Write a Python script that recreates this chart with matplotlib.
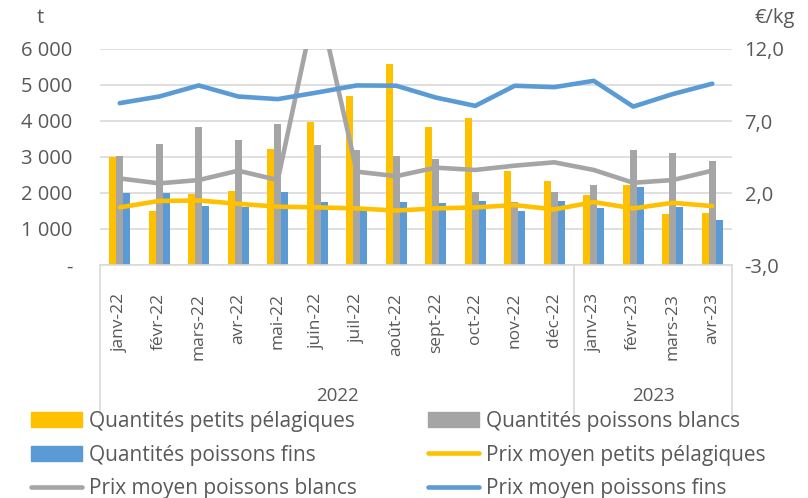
import matplotlib
matplotlib.use("Agg")
import matplotlib.pyplot as plt
import numpy as np
from matplotlib.patches import Patch
from matplotlib.lines import Line2D

# données
mois = ["janv-22", "févr-22", "mars-22", "avr-22", "mai-22", "juin-22", "juil-22",
        "août-22", "sept-22", "oct-22", "nov-22", "déc-22",
        "janv-23", "févr-23", "mars-23", "avr-23"]
annees = ["2022", "2023"]
nb_mois_annee = [12, 4]

q_pelagiques = [2990, 1490, 1970, 2050, 3210, 3980, 4700, 5580,
                3830, 4080, 2600, 2330, 1950, 2220, 1420, 1450]
q_blancs = [3030, 3360, 3840, 3480, 3920, 3340, 3190, 3040,
            2940, 2020, 1750, 2030, 2210, 3190, 3120, 2890]
q_fins = [1990, 1990, 1630, 1600, 2020, 1740, 1520, 1760,
          1710, 1770, 1500, 1790, 1590, 2170, 1620, 1250]

p_pelagiques = [1.00, 1.45, 1.48, 1.25, 1.05, 1.00, 0.93, 0.78,
                0.93, 1.00, 1.16, 0.86, 1.37, 0.93, 1.32, 1.09]
p_blancs = [3.01, 2.67, 2.90, 3.55, 2.90, 15.7, 3.48, 3.17,
            3.76, 3.60, 3.90, 4.13, 3.60, 2.71, 2.90, 3.55]
p_fins = [8.24, 8.70, 9.47, 8.70, 8.52, 8.98, 9.47, 9.45,
          8.63, 8.05, 9.45, 9.35, 9.79, 8.00, 8.87, 9.59]

JAUNE = "#FFC000"
GRIS = "#A5A5A5"
BLEU = "#5B9BD5"
TEXTE = "#595959"

plt.rcParams["font.family"] = ["Open Sans", "DejaVu Sans"]
fs_mois = 12.5
fs_axe = 14.5
fs_leg = 15

fig = plt.figure(figsize=(8.08, 4.98), dpi=100)
ax = fig.add_axes([100 / 808, 1 - 265 / 498, 632 / 808, 216 / 498])
ax2 = ax.twinx()

x = np.arange(len(mois))
w = 0.175
ax.bar(x - w, q_pelagiques, w, color=JAUNE, zorder=2)
ax.bar(x, q_blancs, w, color=GRIS, zorder=2)
ax.bar(x + w, q_fins, w, color=BLEU, zorder=2)

ax.set_xlim(-0.5, len(mois) - 0.5)
ax.set_ylim(0, 6000)
ax.set_yticks(range(0, 7000, 1000))
ax.set_yticklabels(["-"] + ["{} 000".format(i) for i in range(1, 7)])
ax.grid(axis="y", color="#D9D9D9", lw=1.2, zorder=0)
ax.set_axisbelow(True)

lw = 3.3
ax2.plot(x, p_pelagiques, color=JAUNE, lw=lw, solid_capstyle="round", zorder=3)
ax2.plot(x, p_blancs, color=GRIS, lw=lw, solid_capstyle="round", zorder=3)
ax2.plot(x, p_fins, color=BLEU, lw=lw, solid_capstyle="round", zorder=3)
ax2.set_ylim(-3, 12)
ax2.set_yticks([-3, 2, 7, 12])
ax2.set_yticklabels(["-3,0", "2,0", "7,0", "12,0"])

for a in (ax, ax2):
    for s in a.spines.values():
        s.set_visible(False)
    a.tick_params(axis="y", length=0, labelsize=fs_axe, labelcolor=TEXTE)
ax.tick_params(axis="y", pad=20)
ax2.tick_params(axis="y", pad=9)
ax.spines["bottom"].set_visible(True)
ax.spines["bottom"].set_color("#D9D9D9")
ax.spines["bottom"].set_linewidth(1.2)

ax.set_xticks(x)
ax.set_xticklabels(mois, rotation=90, fontsize=fs_mois, color=TEXTE)
ax.tick_params(axis="x", length=0, pad=20)

# titres des axes
fig.text(40 / 808, 1 - 18 / 498, "t", fontsize=fs_axe, color=TEXTE, ha="center", va="center")
fig.text(775 / 808, 1 - 18 / 498, "€/kg", fontsize=fs_axe, color=TEXTE, ha="center", va="center")

# axe des catégories à deux niveaux
bornes = [-0.5]
for n in nb_mois_annee:
    bornes.append(bornes[-1] + n)
trans = ax.get_xaxis_transform()
for b in bornes:
    ax.plot([b, b], [0, -150 / 216], transform=trans, color="#D9D9D9", lw=1.2, clip_on=False)
for i, an in enumerate(annees):
    milieu = (bornes[i] + bornes[i + 1]) / 2
    ax.text(milieu, -131 / 216, an, transform=trans, ha="center", va="center",
            fontsize=13.5, color=TEXTE)

# légende
poignees = [
    Patch(color=JAUNE), Patch(color=BLEU),
    Line2D([], [], color=GRIS, lw=lw, solid_capstyle="round"),
    Patch(color=GRIS),
    Line2D([], [], color=JAUNE, lw=lw, solid_capstyle="round"),
    Line2D([], [], color=BLEU, lw=lw, solid_capstyle="round"),
]
etiquettes = ["Quantités petits pélagiques", "Quantités poissons fins",
              "Prix moyen poissons blancs", "Quantités poissons blancs",
              "Prix moyen petits pélagiques", "Prix moyen poissons fins"]
leg = fig.legend(poignees, etiquettes, ncol=2, loc="upper left",
                 bbox_to_anchor=(31 / 808, 1 - 411 / 498), frameon=False,
                 fontsize=fs_leg, handlelength=2.45, handleheight=0.7, handletextpad=0.34,
                 columnspacing=3.4, labelspacing=0.6, borderpad=0, borderaxespad=0)
for t in leg.get_texts():
    t.set_color(TEXTE)

plt.savefig("out.png", dpi=100)
